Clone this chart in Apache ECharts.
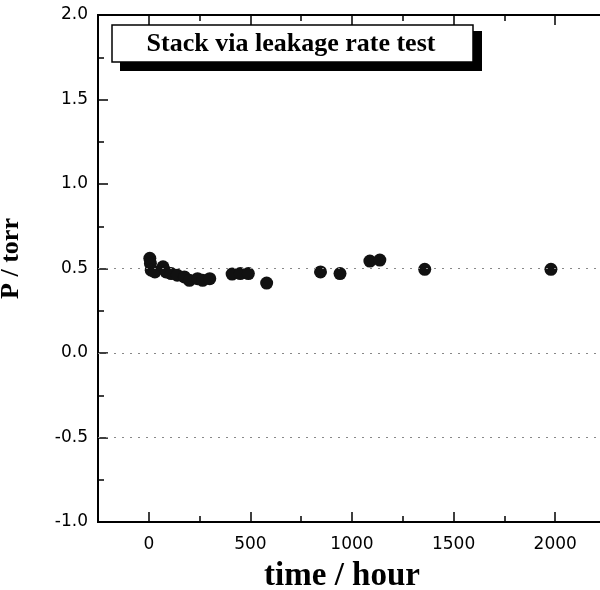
<!DOCTYPE html>
<html>
<head>
<meta charset="utf-8">
<script src="https://cdn.jsdelivr.net/npm/echarts@6/dist/echarts.min.js"></script>
<style>html,body{margin:0;padding:0;background:#fff;}#c{width:600px;height:590px;}</style>
</head>
<body>
<div id="c"></div>
<script>
var timeHours = [5, 8, 12, 30, 70, 85, 110, 140, 175, 200, 240, 265, 300, 410, 450, 490, 580, 845, 941, 1088, 1137, 1358, 1979];
var pressure = [0.56, 0.53, 0.49, 0.48, 0.51, 0.48, 0.47, 0.46, 0.45, 0.43, 0.44, 0.43, 0.44, 0.467, 0.47, 0.47, 0.414, 0.48, 0.47, 0.544, 0.55, 0.495, 0.495];
var xMajorTicks = [0, 500, 1000, 1500, 2000];
var xMinorTicks = [250, 750, 1250, 1750, 2250];
var gridValues = [0.5, 0.0, -0.5];
var titleText = 'Stack via leakage rate test';
var xName = 'time / hour';
var yName = 'P / torr';

var chart = echarts.init(document.getElementById('c'));
var pts = timeHours.map(function (t, i) { return [t, pressure[i]]; });
var serifBold = {fontFamily: 'Liberation Serif', fontWeight: 'bold', color: '#000'};
var axisBase = {
  type: 'value', min: -250, max: 2250,
  axisLine: {show: true, onZero: false, lineStyle: {color: '#000', width: 2}},
  splitLine: {show: false}
};
function xAx(pos, ticks, len, labels) {
  return Object.assign({}, axisBase, {
    position: pos,
    axisTick: {show: true, inside: true, length: len, customValues: ticks, lineStyle: {color: '#000', width: 1.5}},
    axisLabel: labels ? {show: true, customValues: ticks, color: '#000', fontFamily: 'DejaVu Sans', fontSize: 17, margin: 14,
      formatter: function (v) { return String(v); }} : {show: false}
  });
}
var xAxes = [
  xAx('bottom', xMajorTicks, 10, true),
  xAx('bottom', xMinorTicks, 6, false),
  xAx('top', xMajorTicks, 10, false),
  xAx('top', xMinorTicks, 6, false)
];
xAxes[0].name = xName;
xAxes[0].nameLocation = 'middle';
xAxes[0].nameGap = 38;
xAxes[0].nameTextStyle = Object.assign({fontSize: 33, padding: [0, 20, 0, 0]}, serifBold);

chart.setOption({
  animation: false,
  backgroundColor: '#fff',
  grid: {left: 98, top: 15, bottom: 68, right: -6, outerBoundsMode: 'none', containLabel: false},
  xAxis: xAxes,
  yAxis: {
    type: 'value', min: -1, max: 2, interval: 0.5,
    axisLine: {show: true, onZero: false, lineStyle: {color: '#000', width: 2}},
    axisTick: {show: true, inside: true, length: 10, lineStyle: {color: '#000', width: 1.5}},
    minorTick: {show: true, splitNumber: 2, length: 6, lineStyle: {color: '#000', width: 1.5}},
    splitLine: {show: false},
    axisLabel: {color: '#000', fontFamily: 'DejaVu Sans', fontSize: 17, margin: 10,
      formatter: function (v) { return v.toFixed(1); }},
    name: yName, nameLocation: 'middle', nameGap: 74,
    nameTextStyle: Object.assign({fontSize: 26, padding: [0, 0, 0, 20]}, serifBold)
  },
  graphic: [
    {type: 'rect', shape: {x: 120, y: 31, width: 362, height: 40}, style: {fill: '#000'}, z: 10},
    {type: 'rect', shape: {x: 112, y: 25, width: 361, height: 37}, style: {fill: '#fff', stroke: '#000', lineWidth: 1.5}, z: 11},
    {type: 'text', x: 291, y: 44, z: 12,
      style: {text: titleText, fontFamily: 'Liberation Serif', fontWeight: 'bold', fontSize: 26, fill: '#000', align: 'center', verticalAlign: 'middle'}}
  ],
  series: [{
    type: 'scatter', xAxisIndex: 0, data: pts, symbolSize: 13,
    itemStyle: {color: '#111', opacity: 1},
    markLine: {
      silent: true, symbol: 'none', label: {show: false},
      lineStyle: {color: '#888', type: [2, 6], width: 1},
      data: gridValues.map(function (v) { return {yAxis: v}; })
    }
  }]
});
</script>
</body>
</html>
